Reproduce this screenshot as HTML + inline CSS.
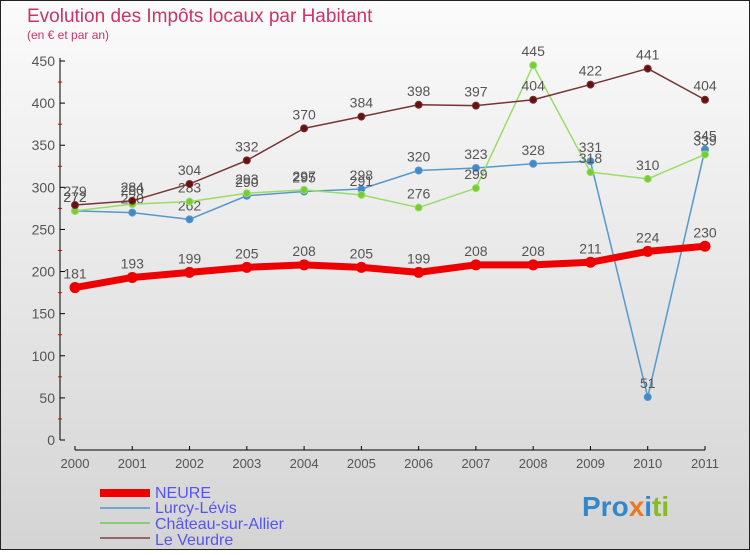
<!DOCTYPE html>
<html><head><meta charset="utf-8"><style>
body{margin:0}
svg text{font-family:"Liberation Sans","DejaVu Sans",sans-serif}
</style></head><body>
<svg id="c" width="750" height="550" xmlns="http://www.w3.org/2000/svg">
<defs><linearGradient id="bg" x1="0" y1="0" x2="0" y2="1"><stop offset="0" stop-color="#fbfbfb"/><stop offset="1" stop-color="#d4d4d4"/></linearGradient></defs>
<rect x="0.5" y="0.5" width="749" height="549" fill="url(#bg)" stroke="#222"/>
<text x="27" y="22" font-size="19" fill="#cc3366">Evolution des Impôts locaux par Habitant</text>
<text x="27" y="39" font-size="12" fill="#cc3366">(en € et par an)</text>
<g id="axes"></g><g id="series"></g>
<g font-size="16" fill="#5555ee">
<rect x="100" y="489" width="50" height="8" fill="#ee0000"/><text x="155" y="498">NEURE</text>
<line x1="100" y1="508" x2="150" y2="508" stroke="#6fa8cc" stroke-width="2"/><text x="155" y="513">Lurcy-Lévis</text>
<line x1="100" y1="523" x2="150" y2="523" stroke="#88cc77" stroke-width="2"/><text x="155" y="529">Château-sur-Allier</text>
<line x1="100" y1="538" x2="150" y2="538" stroke="#996666" stroke-width="2"/><text x="155" y="545">Le Veurdre</text>
</g>
<text x="582" y="516" font-size="28" font-weight="bold"><tspan fill="#3388cc">Pro</tspan><tspan fill="#ee7722">x</tspan><tspan fill="#3388cc">i</tspan><tspan fill="#88bb22">ti</tspan></text>
</svg>
<script>
const years=["2000","2001","2002","2003","2004","2005","2006","2007","2008","2009","2010","2011"];
const yTicks=[0,50,100,150,200,250,300,350,400,450];
const neure=[181,193,199,205,208,205,199,208,208,211,224,230];
const lurcy=[272,270,262,290,295,298,320,323,328,331,51,345];
const chateau=[272,280,283,293,297,291,276,299,445,318,310,339];
const veurdre=[279,284,304,332,370,384,398,397,404,422,441,404];
const NS="http://www.w3.org/2000/svg";
const X=i=>75+i*(630/11), Y=v=>440-v*(379/450);
function mk(t,a,p){const e=document.createElementNS(NS,t);for(const k in a)e.setAttribute(k,a[k]);p.appendChild(e);return e;}
const ax=document.getElementById('axes');
let e=mk('line',{x1:60,y1:58,x2:60,y2:440,stroke:'#000'},ax);

e=mk('line',{x1:75,y1:450,x2:X(11),y2:450,stroke:'#000'},ax);

yTicks.forEach((v,i)=>{mk('line',{x1:60,y1:Y(v),x2:65,y2:Y(v),stroke:'#000'},ax);
 if(i<yTicks.length-1)mk('line',{x1:58,y1:Y(v+25),x2:62,y2:Y(v+25),stroke:'#d00'},ax);
 const t=mk('text',{x:55,y:Y(v)+5,'text-anchor':'end','font-size':14,fill:'#555'},ax);t.textContent=v;
 });
years.forEach((y,i)=>{mk('line',{x1:X(i),y1:446,x2:X(i),y2:450,stroke:'#000'},ax);
 const t=mk('text',{x:X(i),y:468,'text-anchor':'middle','font-size':13,fill:'#555'},ax);t.textContent=y;
 });
const sg=document.getElementById('series');
function series(d,name,color,w,r,dot){const g=mk('g',{},sg);
 
 mk('polyline',{points:d.map((v,i)=>X(i)+','+Y(v)).join(' '),fill:'none',stroke:color,'stroke-width':w,'stroke-linejoin':'round'},g);
 d.forEach((v,i)=>{const c=mk('circle',{cx:X(i),cy:Y(v),r:r,fill:dot,stroke:color},g);
  
  const t=mk('text',{x:X(i),y:Y(v)-9,'text-anchor':'middle','font-size':14,fill:'#555'},g);t.textContent=v;
  });}
series(lurcy,'lurcy','#5599cc',1.5,3.5,'#4488cc');
series(chateau,'chateau','#99dd66',1.5,3.5,'#77cc33');
series(veurdre,'veurdre','#773333',1.5,3.5,'#661111');
series(neure,'neure','#ee0000',7,5,'#ee0000');
</script>
</body></html>
